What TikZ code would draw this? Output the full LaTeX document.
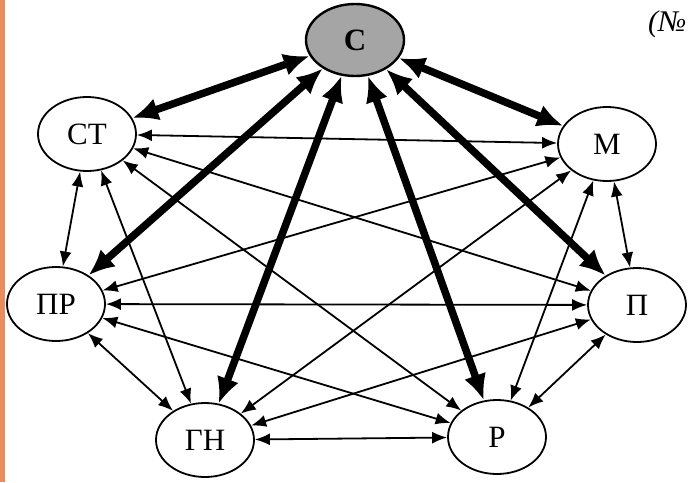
\documentclass[tikz,border=0pt]{standalone}
\usepackage{fontspec}
\setmainfont{Liberation Serif}
\usetikzlibrary{arrows.meta,shapes.geometric}
\definecolor{mystrip}{RGB}{234,139,96}
\definecolor{mygray}{RGB}{165,165,165}

\begin{document}
\begin{tikzpicture}[x=1pt,y=-1pt,
  circ/.style={ellipse,draw,line width=1.8pt,minimum width=98pt,minimum height=74pt,
               inner sep=0pt,font=\fontsize{31}{34}\selectfont},
  hub/.style={circ,fill=mygray,line width=2.4pt,minimum height=72pt,font=\bfseries\fontsize{31}{34}\selectfont},
  link/.style={{Latex[length=15pt,width=12pt]}-{Latex[length=15pt,width=12pt]},line width=1.8pt},
  mainlink/.style={{Latex[length=26pt,width=23pt]}-{Latex[length=26pt,width=23pt]},line width=7.5pt}]
\useasboundingbox (0,0) rectangle (692,482);
\fill[white] (0,0) rectangle (692,482);
\fill[mystrip] (0,0) rectangle (5,482);
\node[hub]  (c)  at (355,40)  {С};
\node[circ] (st) at (87,134)  {СТ};
\node[circ] (m)  at (607,144) {М};
\node[circ] (pr) at (56,304)  {ПР};
\node[circ] (p)  at (637,305) {П};
\node[circ] (gn) at (205,440) {ГН};
\node[circ] (r)  at (497,437) {Р};
\node[font=\itshape\fontsize{30}{34}\selectfont,anchor=east] (no) at (690,24) {(№};
\foreach \a/\b in {st/m,st/pr,st/p,st/gn,st/r,m/pr,m/p,m/gn,m/r,pr/p,pr/gn,pr/r,p/gn,p/r,gn/r}
  \draw[link] (\a) -- (\b);
\foreach \b in {st,m,pr,p,gn,r}
  \draw[mainlink] (c) -- (\b);
\end{tikzpicture}
\end{document}
